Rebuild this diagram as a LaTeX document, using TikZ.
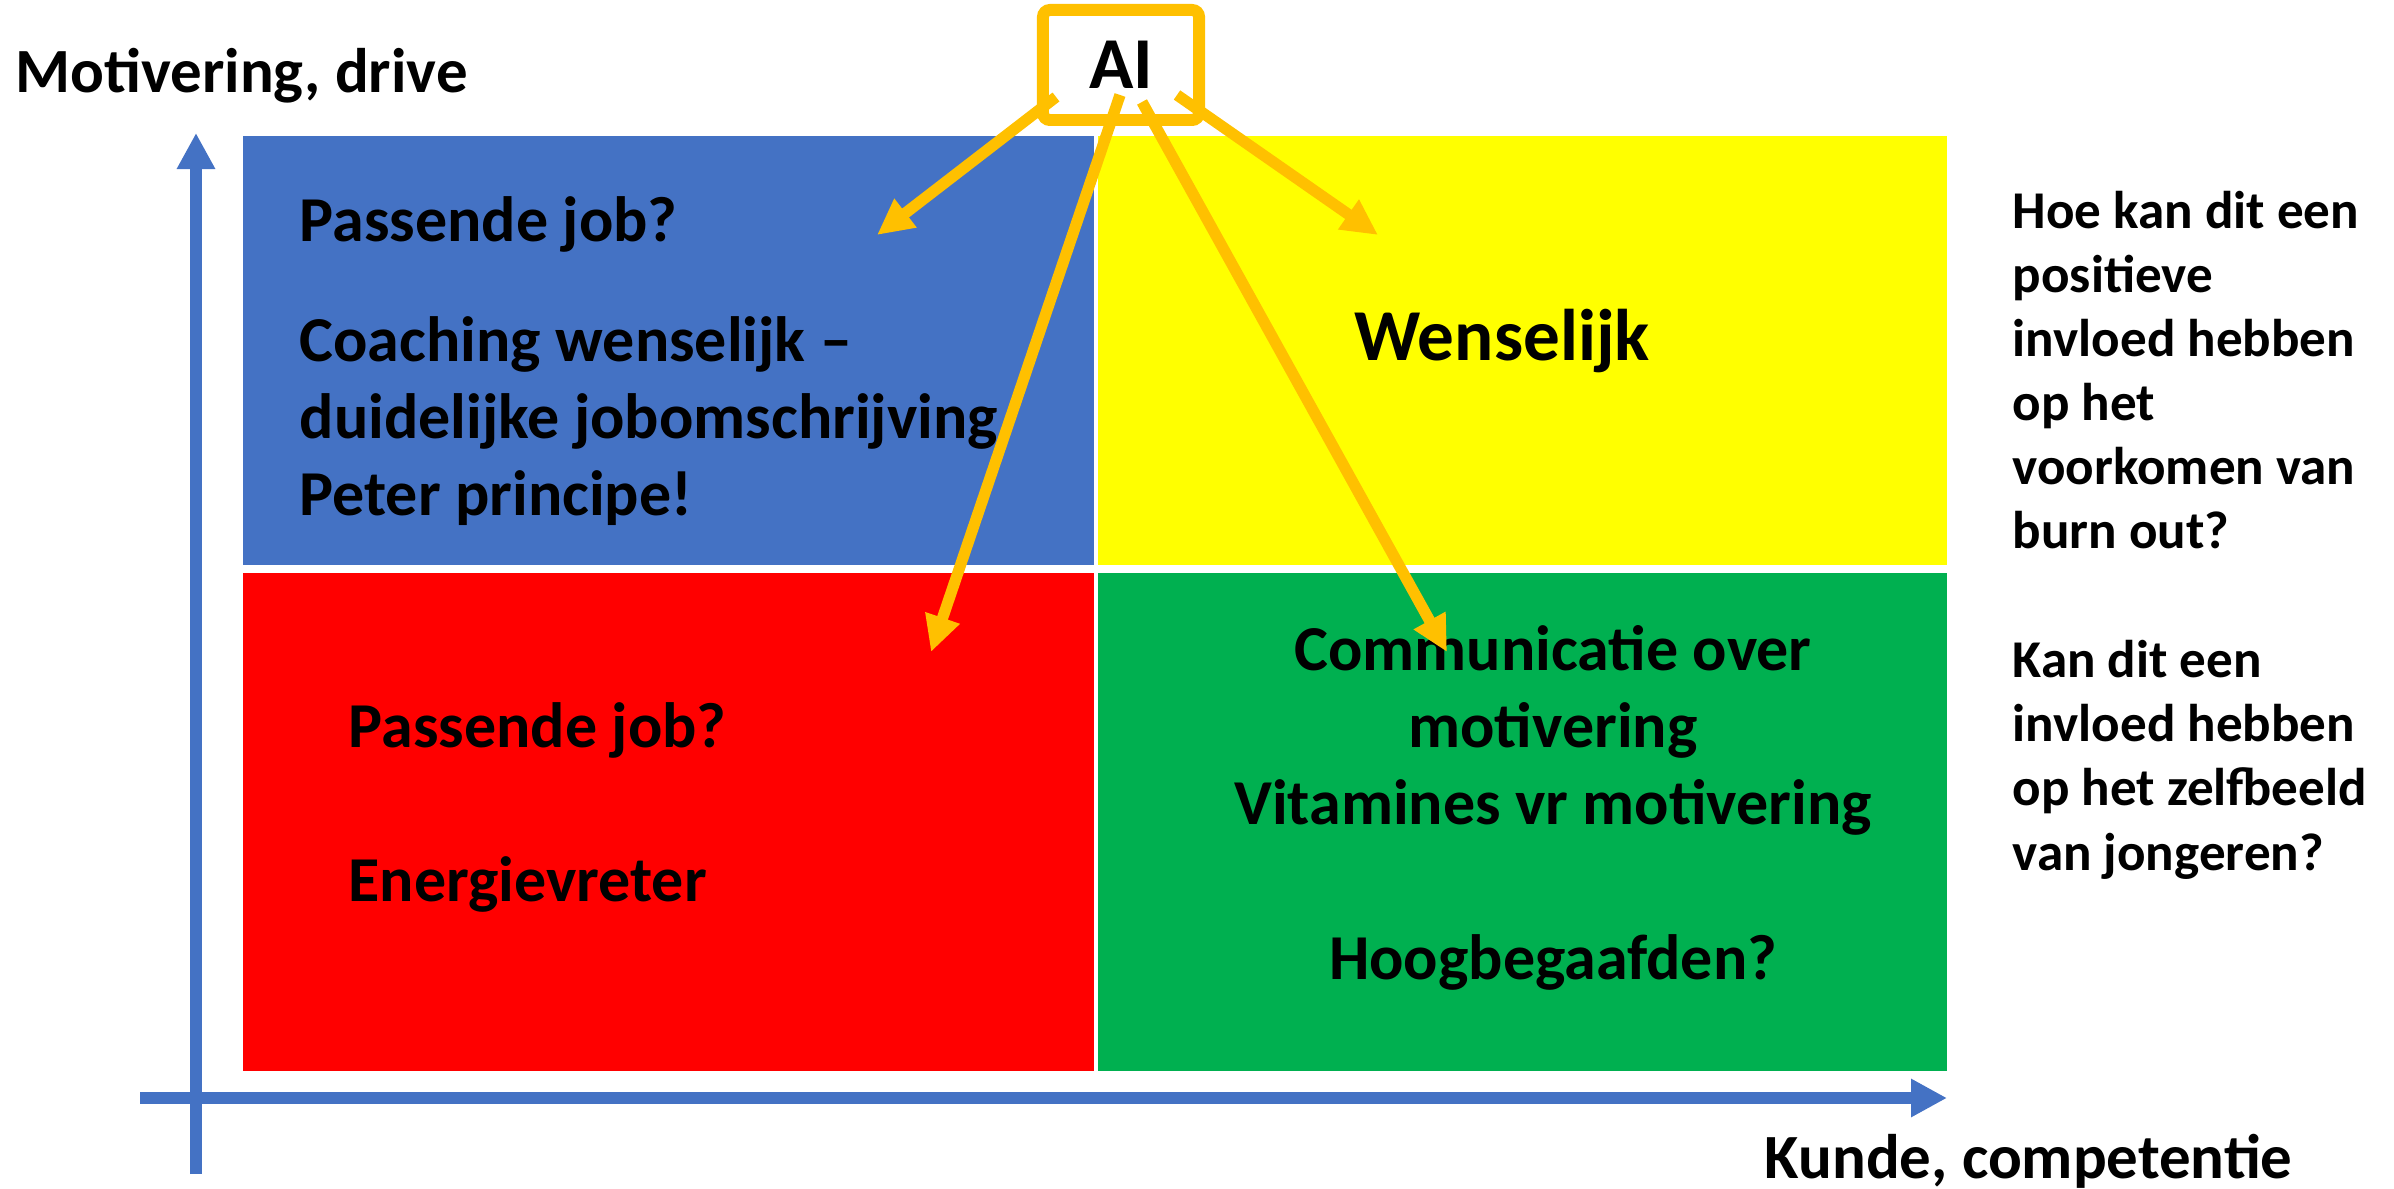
\documentclass[tikz,border=0pt]{standalone}
\usepackage{fontspec}
\setmainfont{Carlito}
\usetikzlibrary{arrows.meta,positioning}
\definecolor{qblue}{RGB}{68,114,196}
\definecolor{qyellow}{RGB}{255,255,0}
\definecolor{qred}{RGB}{255,0,0}
\definecolor{qgreen}{RGB}{0,176,80}
\definecolor{aiorange}{RGB}{255,192,0}
\tikzstyle{quadrant} = [rectangle, draw=none, inner sep=0pt, anchor=north west]
\tikzstyle{quadtext} = [inner sep=0pt, font=\bfseries\fontsize{18.2pt}{21.9pt}\selectfont]
\tikzstyle{sidetext} = [inner sep=0pt, align=left, anchor=base west, font=\bfseries\fontsize{15.1pt}{18.2pt}\selectfont]
\tikzstyle{axislabel} = [inner sep=0pt, anchor=base west, font=\bfseries\fontsize{17.9pt}{21pt}\selectfont]
\tikzstyle{axis} = [draw=qblue, line width=3.4pt, -{Triangle[length=0.36cm,width=0.36cm]}]
\tikzstyle{aiarrow} = [draw=aiorange, line width=3.2pt, -{Triangle[length=0.36cm,width=0.34cm]}]

\begin{document}
\begin{tikzpicture}[x=0.01cm, y=-0.01cm]
  \useasboundingbox (0,0) rectangle (2394,1189);
  % kwadranten
  \node[quadrant, fill=qblue, minimum width=8.51cm, minimum height=4.29cm] (blauw) at (242,135) {};
  \node[quadrant, fill=qyellow, minimum width=8.49cm, minimum height=4.29cm] (geel) at (1097,135) {};
  \node[quadrant, fill=qred, minimum width=8.51cm, minimum height=4.98cm] (rood) at (242,572) {};
  \node[quadrant, fill=qgreen, minimum width=8.49cm, minimum height=4.98cm] (groen) at (1097,572) {};

  % assen
  \coordinate (xbegin) at (140,1098);
  \coordinate (xeind) at (1947,1098);
  \coordinate (ybegin) at (196,1174);
  \coordinate (yeind) at (196,133);
  \draw[axis] (xbegin) -- (xeind);
  \draw[axis] (ybegin) -- (yeind);
  \node[axislabel] (motivering) at (15,93) {Motivering, drive};
  \node[axislabel] (kunde) at (1764,1178) {Kunde, competentie};

  % teksten (base = laatste regel)
  \node[quadtext, anchor=base west] (bl1) at (299,242) {Passende job?};
  \node[quadtext, anchor=base west, align=left] (bl2) at (299,516) {Coaching wenselijk --\\duidelijke jobomschrijving\\Peter principe!};
  \node[quadtext, anchor=base, font=\bfseries\fontsize{20.8pt}{25pt}\selectfont] (ge1) at (1502,361) {Wenselijk};
  \node[quadtext, anchor=base west] (ro1) at (348,748) {Passende job?};
  \node[quadtext, anchor=base west] (ro2) at (348,902) {Energievreter};
  \node[quadtext, anchor=base, align=center] (gr1) at (1553,979) {Communicatie over\\motivering\\Vitamines vr motivering\\[21.9pt]Hoogbegaafden?};
  \node[sidetext] (vraag1) at (2012,549) {Hoe kan dit een\\positieve\\invloed hebben\\op het\\voorkomen van\\burn out?};
  \node[sidetext] (vraag2) at (2012,870) {Kan dit een\\invloed hebben\\op het zelfbeeld\\van jongeren?};

  % AI
  \node[draw=aiorange, fill=white, line width=3.4pt, rounded corners=2pt, minimum width=1.56cm, minimum height=1.10cm, inner sep=0pt, font=\bfseries\fontsize{20.8pt}{25pt}\selectfont] (ai) at (1121,65) {AI\hspace{0.2cm}};
  \coordinate (ai1) at (1056,97);
  \coordinate (ai2) at (1120,95);
  \coordinate (ai3) at (1142,102);
  \coordinate (ai4) at (1177,95);
  \coordinate (doel1) at (877,235);
  \coordinate (doel2) at (931,652);
  \coordinate (doel3) at (1447,652);
  \coordinate (doel4) at (1378,235);
  \draw[aiarrow] (ai1) -- (doel1);
  \draw[aiarrow] (ai2) -- (doel2);
  \draw[aiarrow] (ai3) -- (doel3);
  \draw[aiarrow] (ai4) -- (doel4);
\end{tikzpicture}
\end{document}
